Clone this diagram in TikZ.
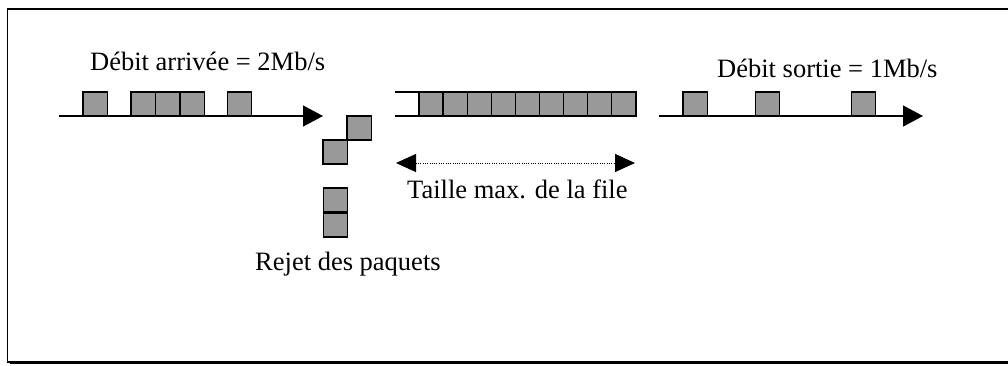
\documentclass[tikz,border=0pt]{standalone}
\usepackage{fontspec}
\setmainfont{Liberation Serif}
\usetikzlibrary{arrows.meta}
\definecolor{pktgray}{RGB}{153,153,153}
\tikzset{
  pkt/.style={draw=black, fill=pktgray, line width=1.3pt, minimum width=24.3pt, minimum height=24pt, inner sep=0pt, outer sep=0pt, anchor=south west},
  flow/.style={line width=1.5pt, -{Triangle[length=20pt,width=21pt]}},
  qline/.style={line width=1.5pt},
  span/.style={line width=1pt, dash pattern=on 1pt off 1.3pt, {Triangle[length=20pt,width=18pt]}-{Triangle[length=20pt,width=18pt]}},
  lbl/.style={anchor=base west, inner sep=0pt, font=\fontsize{26.5}{30}\selectfont},
  frame/.style={line width=1.5pt}
}
\begin{document}
\begin{tikzpicture}[x=1pt,y=-1pt]
\useasboundingbox (0,0) rectangle (1008,365);
% frame (right side lies outside the picture) with shadow
\draw[line width=1.5pt] (9.5,363.5) -- (1008,363.5);
\draw[frame] (1008,9) -- (7.5,9) -- (7.5,362) -- (1008,362);
% labels
\node[lbl] (tin) at (90,70) {Débit arrivée = 2Mb/s};
\node[lbl] (tout) at (717,77) {Débit sortie = 1Mb/s};
\node[lbl] (tq) at (407,198) {Taille max. de la file};
\node[lbl] (trej) at (255,270) {Rejet des paquets};
% input flow
\coordinate (inA) at (59,116);
\coordinate (inB) at (323,116);
\draw[flow] (inA) -- (inB);
\node[pkt] (i1) at (83,116) {};
\node[pkt] (i2) at (131,116) {};
\node[pkt] (i3) at (155.5,116) {};
\node[pkt] (i4) at (180,116) {};
\node[pkt] (i5) at (227.5,116) {};
% dropped packets
\node[pkt] (d1) at (347,140) {};
\node[pkt] (d2) at (323,164) {};
\node[pkt] (d3) at (323.5,212) {};
\node[pkt] (d4) at (323.5,237) {};
% queue
\coordinate (qt) at (395,92);
\coordinate (qb) at (395,116);
\foreach \k in {0,...,8} {
  \node[pkt] (q\k) at (419+\k*24.1,116) {};
}
\draw[qline] (qt) -- (qt -| q0.west);
\draw[qline] (qb) -- (qb -| q0.west);
% queue size
\coordinate (sA) at (396,163);
\coordinate (sB) at (635,163);
\draw[span] (sA) -- (sB);
% output flow
\coordinate (outA) at (659,116);
\coordinate (outB) at (923,116);
\draw[flow] (outA) -- (outB);
\node[pkt] (o1) at (683,116) {};
\node[pkt] (o2) at (755.5,116) {};
\node[pkt] (o3) at (851.5,116) {};
\end{tikzpicture}
\end{document}
